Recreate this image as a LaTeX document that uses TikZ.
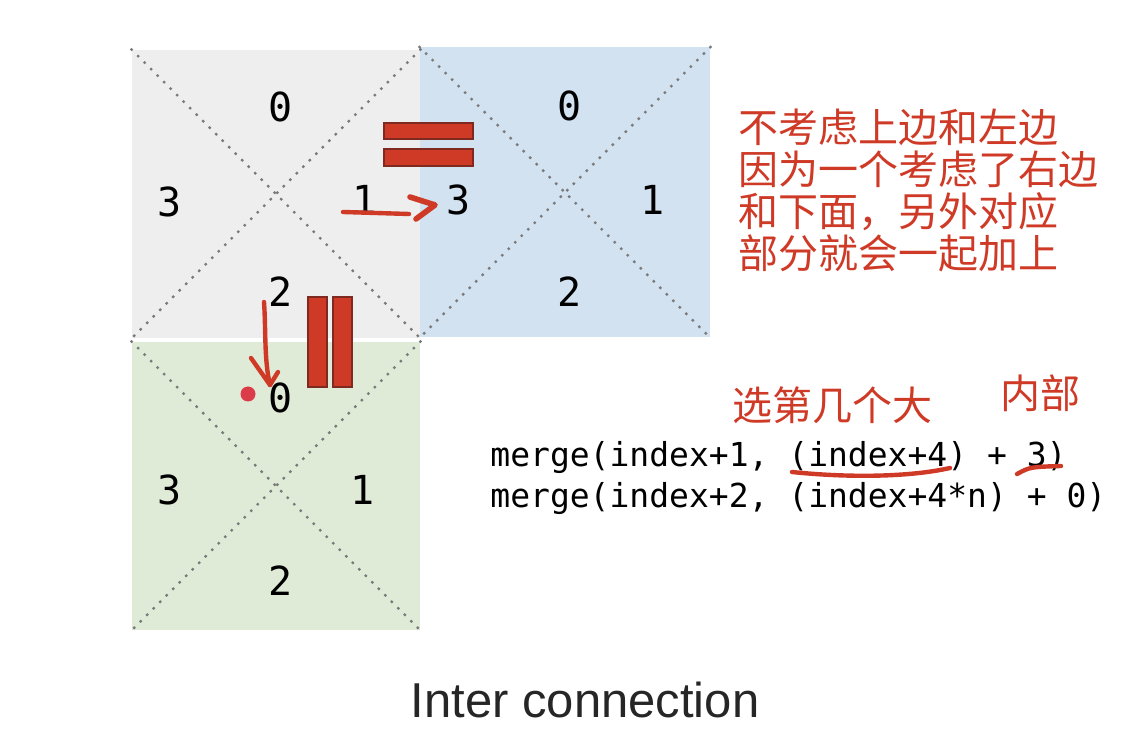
\documentclass[tikz,border=0pt]{standalone}
\usepackage{fontspec}
\setsansfont{Liberation Sans}
\newfontfamily\cjk{Noto Sans CJK SC}
\newfontfamily\digitfont{DejaVu Sans Mono}
\usepackage{xcolor}
\usetikzlibrary{positioning}
\definecolor{cellgray}{HTML}{EEEEEE}
\definecolor{cellblue}{HTML}{D3E2F1}
\definecolor{cellgreen}{HTML}{DFEBD7}
\definecolor{dotgray}{HTML}{7A7A7A}
\definecolor{inkred}{HTML}{CF3A27}
\definecolor{bardark}{HTML}{7E2A20}
\definecolor{dotred}{HTML}{DC3C4A}

\begin{document}
\begin{tikzpicture}[x=0.5pt, y=-0.5pt]
\tikzstyle{cell}=[draw=none, minimum size=144pt, inner sep=0pt]
\tikzstyle{num}=[font=\digitfont\fontsize{20}{24}\selectfont, inner sep=0pt]
\tikzstyle{code}=[font=\digitfont\fontsize{16.5}{20}\selectfont, inner sep=0pt, anchor=west]
\tikzstyle{note}=[font=\cjk\fontsize{20}{21}\selectfont, text=inkred, inner sep=0pt]
\tikzstyle{diag}=[draw=dotgray, line width=1.7pt, line cap=round, dash pattern=on 0pt off 4.6pt]
\tikzstyle{ink}=[draw=inkred, line width=2.2pt, line cap=round, line join=round]
\tikzstyle{bar}=[fill=inkred, draw=bardark, line width=0.7pt]
\useasboundingbox (0,0) rectangle (1136,748);
% the three cells
\node[cell, fill=cellgray] (g) at (276,194) {};
\node[cell, fill=cellblue, minimum size=145pt] (b) at (565,192.5) {};
\node[cell, fill=cellgreen] (r) at (276,486) {};
\foreach \s in {g,b,r}{\draw[diag] (\s.north west) -- (\s.south east); \draw[diag] (\s.north east) -- (\s.south west);}
% digits
\node[num] (g0) at (281,107) {0};
\node[num] (g3) at (170,202) {3};
\node[num] (g1) at (365,200) {1};
\node[num] (g2) at (281,292) {2};
\node[num] (b0) at (570,106) {0};
\node[num] (b3) at (459,200) {3};
\node[num] (b1) at (653,200) {1};
\node[num] (b2) at (570,292) {2};
\node[num] (r0) at (281,398) {0};
\node[num] (r3) at (170,490) {3};
\node[num] (r1) at (363,490) {1};
\node[num] (r2) at (281,581) {2};
% equal marks
\draw[bar] (384,123) rectangle (473,139);
\draw[bar] (384,149) rectangle (473,166);
\draw[bar] (308,297) rectangle (327,387);
\draw[bar] (333,297) rectangle (352,387);
% hand drawn arrows
\coordinate (ra) at (343,212);
\coordinate (rb) at (409,214);
\coordinate (rt) at (435,205);
\draw[ink] (ra) -- (rb);
\draw[ink, line width=2.8pt] (410,197) -- (rt) -- (416,219);
\coordinate (da) at (264,302);
\coordinate (db) at (270,385);
\draw[ink] (da) .. controls (266,330) and (264,360) .. (db);
\draw[ink] (251,358) -- (db) -- (278,372);
\fill[dotred] (248,394) circle (7.5);
% notes
\node[note, anchor=west, align=left] (n1) at (738,190) {不考虑上边和左边\\因为一个考虑了右边\\和下面，另外对应\\部分就会一起加上};
\node[note] (n2) at (832,405) {选第几个大};
\node[note] (n3) at (1040,393) {内部};
% code
\node[code] (c1) at (490,458) {merge(index+1, (index+4) + 3)};
\node[code] (c2) at (490,499) {merge(index+2, (index+4*n) + 0)};
\draw[ink] (792,472) .. controls (850,478) and (910,477) .. (950,468);
\draw[ink] (1017,474) .. controls (1030,467) .. (1061,466);
% caption
\node[font=\sffamily\fontsize{24.5}{30}\selectfont, text=black!85] (cap) at (585,700) {Inter connection};
\end{tikzpicture}
\end{document}
